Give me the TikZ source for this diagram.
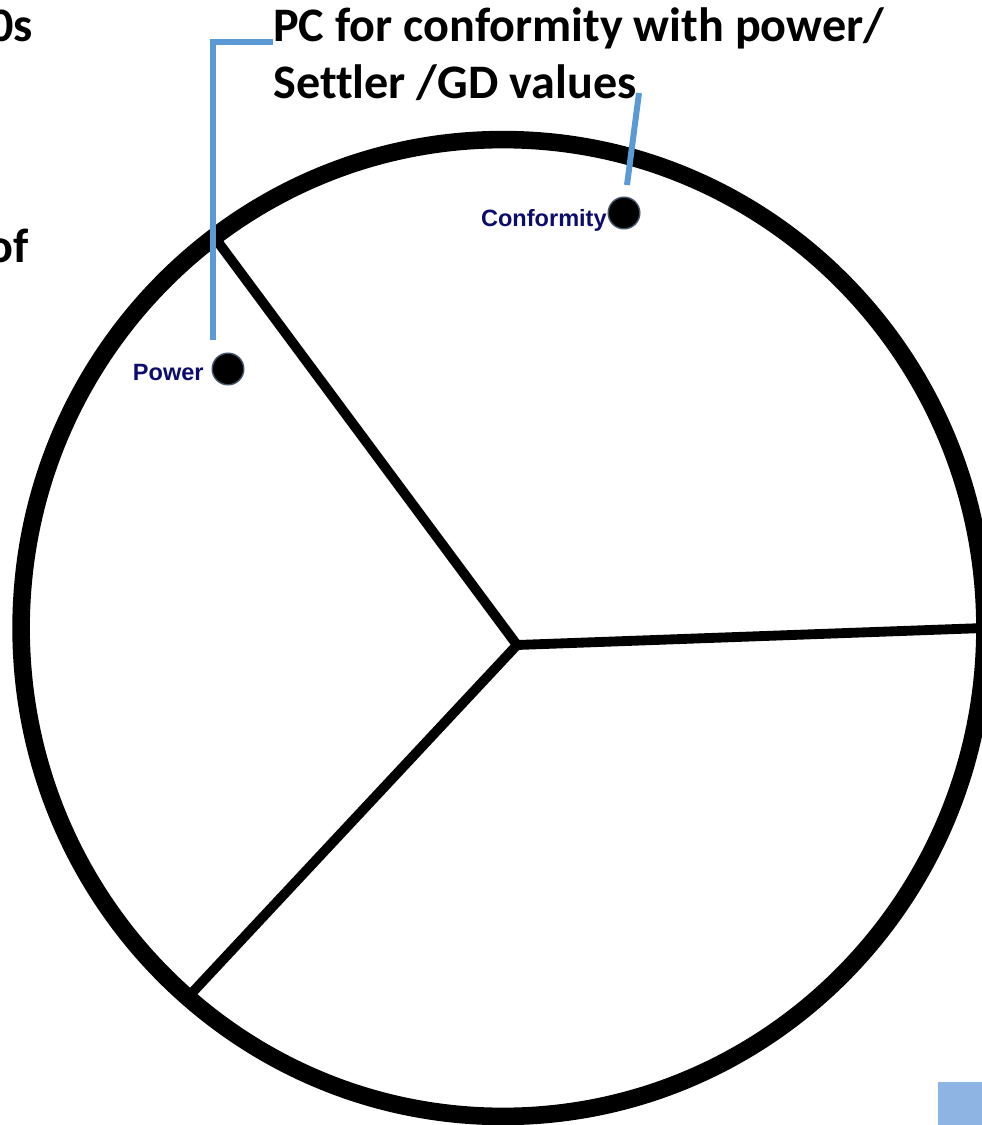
\documentclass[tikz,border=0pt]{standalone}
\usepackage{fontspec}
\setmainfont[Ligatures=NoCommon]{Carlito}
\newfontfamily\arialfont{Liberation Sans}
\definecolor{calloutblue}{HTML}{5B9BD5}
\definecolor{labelnavy}{HTML}{0C0C6E}
\definecolor{dotrim}{HTML}{44546A}
\definecolor{boxblue}{HTML}{8EB4E3}
\tikzset{
 rim/.style={line width=10pt},
 spoke/.style={line width=5.6pt},
 callout/.style={calloutblue,line width=3.4pt},
 valuedot/.style={circle,fill=black,draw=dotrim,line width=0.8pt,minimum size=18pt,inner sep=0pt},
 valuelabel/.style={font=\arialfont\bfseries\fontsize{13.4}{15}\selectfont,text=labelnavy,inner sep=0pt},
 headline/.style={font=\bfseries\fontsize{27.4}{32}\selectfont,inner sep=0pt}
}
\begin{document}
\begin{tikzpicture}[x=0.02cm,y=-0.02cm]
 \useasboundingbox (0,0) rectangle (982,1125);
 \clip (0,0) rectangle (982,1125);
 \draw[rim](503,628) ellipse [x radius=9.64cm,y radius=9.77cm];
 \coordinate (hub) at (517,645);
 \coordinate (rimtl) at (218,242);
 \coordinate (rimr) at (984,628);
 \coordinate (rimbl) at (190,995);
 \draw[spoke,line cap=round](rimtl)--(hub)--(rimr);
 \draw[spoke,line cap=round](hub)--(rimbl);
 \node[valuedot] (powerdot) at (228,369) {};
 \node[valuedot] (confdot) at (624,213) {};
 \node[valuelabel,anchor=base east] (powerlabel) at (204,380) {Power};
 \node[valuelabel,anchor=base east] (conflabel) at (607,227) {Conformity};
 \node[headline,anchor=base west] (pcline1) at (273,42) {PC for conformity with power/};
 \node[headline,anchor=base west] (pcline2) at (273,99) {Settler /GD values};
 \node[headline,anchor=base east] (leftline1) at (33,42) {0s};
 \node[headline,anchor=base east] (leftline2) at (29,262) {of};
 \coordinate (powertip) at (213,340);
 \coordinate (conftop) at (639,93);
 \coordinate (confbottom) at (627,185);
 \draw[callout](pcline1.base west)-|(powertip);
 \draw[callout](conftop)--(confbottom);
 \fill[boxblue](938,1082) rectangle (982,1125);
\end{tikzpicture}
\end{document}
